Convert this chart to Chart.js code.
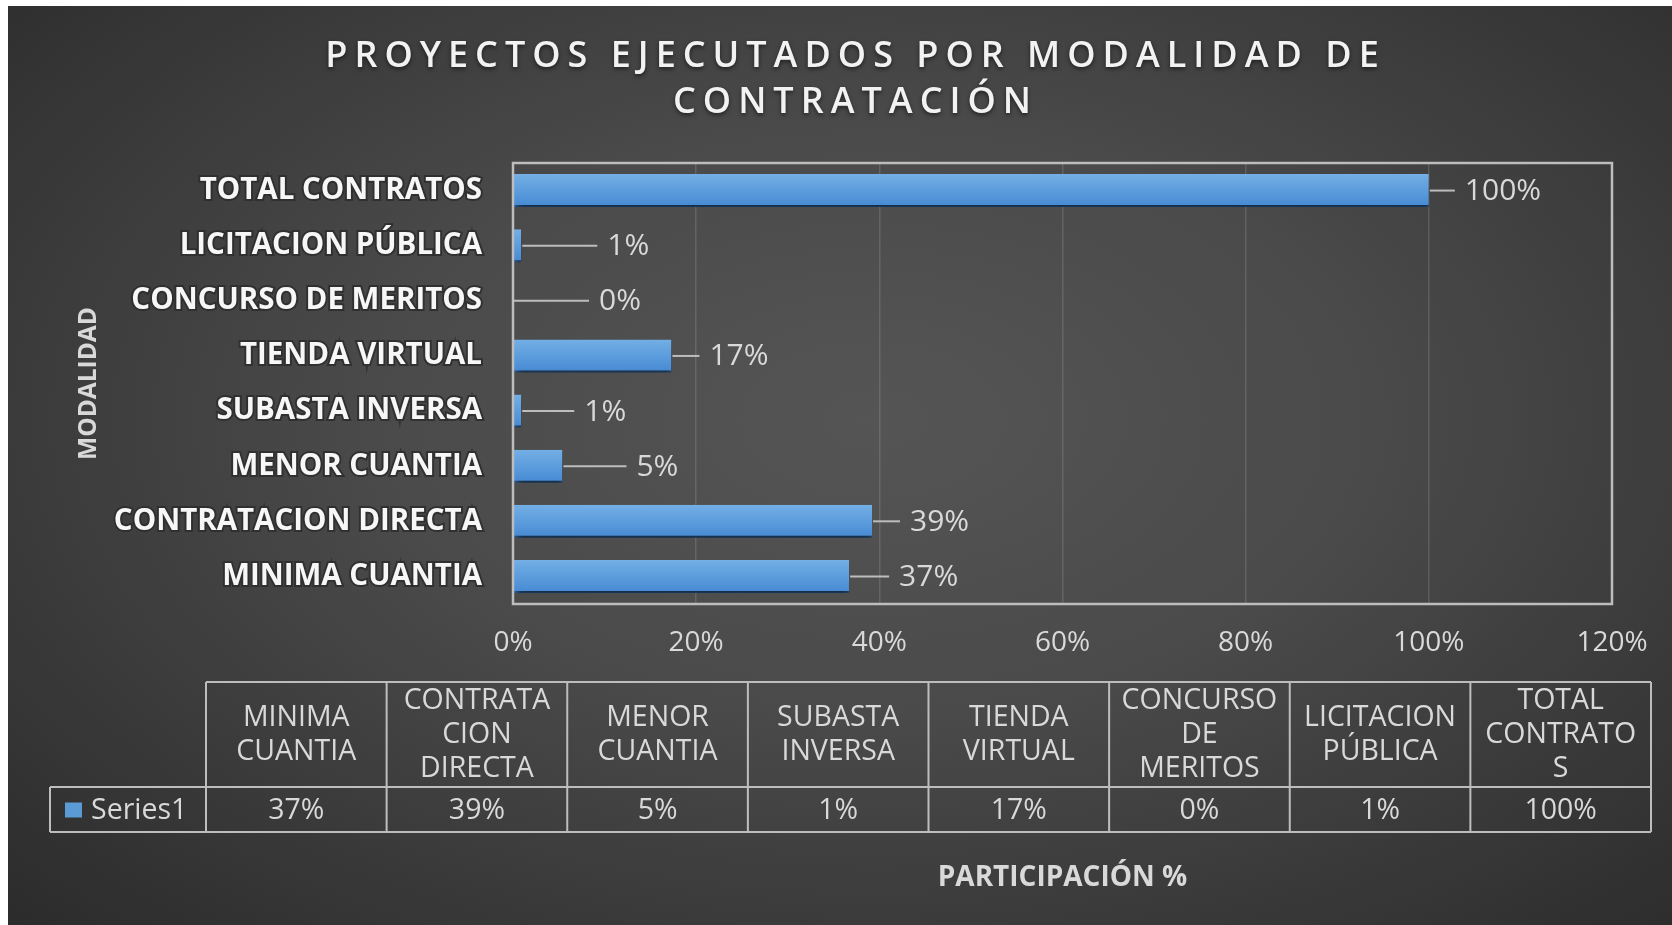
<!DOCTYPE html>
<html>
<head>
<meta charset="utf-8">
<title>Proyectos ejecutados por modalidad de contratación</title>
<script src="https://cdn.jsdelivr.net/npm/chart.js@4.4.1/dist/chart.umd.min.js"></script>
<style>
  html, body { margin: 0; padding: 0; background: #fff; }
  #wrap {
    position: absolute; left: 8px; top: 6px; width: 1664px; height: 919px;
    background: radial-gradient(ellipse 75% 80% at 52% 45%, #555555 0%, #4a4a4a 40%, #2a2a2a 100%);
  }
</style>
</head>
<body>
<div id="wrap"><canvas id="chart" width="1664" height="919"></canvas></div>
<script>
// ── DATA ──────────────────────────────────────────────────────────────────────
const titleLines = ['PROYECTOS EJECUTADOS POR MODALIDAD DE', 'CONTRATACIÓN'];
const categories = ['MINIMA CUANTIA', 'CONTRATACION DIRECTA', 'MENOR CUANTIA', 'SUBASTA INVERSA',
    'TIENDA VIRTUAL', 'CONCURSO DE MERITOS', 'LICITACION PÚBLICA', 'TOTAL CONTRATOS'];
const participacion = [36.7, 39.2, 5.4, 0.9, 17.3, 0, 0.9, 100];
const seriesName = 'Series1';
const xTicks = [0, 20, 40, 60, 80, 100, 120];
const yTitle = 'MODALIDAD';
const xTitle = 'PARTICIPACIÓN %';

const FONT = '"Open Sans", sans-serif';
const BLUE = '#5B9BD5';
const LABEL = '#d9d9d9';
const LINE = '#bdbdbd';
const BAR_PCT = 0.6;

const pct = v => Math.round(v) + '%';

// gradient per bar, built from the category scale
function barFill(ctx) {
    const chart = ctx.chart;
    const y = chart.scales.y;
    if (!y || ctx.type !== 'data' || !y.height) return BLUE;
    const c = y.getPixelForValue(ctx.dataIndex);
    const h = (y.height / categories.length) * BAR_PCT / 2;
    const g = chart.ctx.createLinearGradient(0, c - h, 0, c + h);
    g.addColorStop(0, '#74afe5');
    g.addColorStop(0.55, '#5a9bdc');
    g.addColorStop(1, '#4589d2');
    return g;
}

function wrap(c, text, maxW) {
    const lines = [];
    let line = '';
    for (const word of text.split(' ')) {
        const test = line ? line + ' ' + word : word;
        if (c.measureText(test).width <= maxW) { line = test; continue; }
        if (line) lines.push(line);
        line = '';
        for (const ch of word) {
            if (line && c.measureText(line + ch).width > maxW) { lines.push(line); line = ch; }
            else line += ch;
        }
    }
    if (line) lines.push(line);
    return lines;
}

// ── PLUGINS ───────────────────────────────────────────────────────────────────

const barShadow = {
    id: 'barShadow',
    beforeDatasetsDraw(chart) {
        const c = chart.ctx;
        c.save();
        c.shadowColor = 'rgba(0,0,0,0.65)';
        c.shadowBlur = 7;
        c.shadowOffsetX = 2;
        c.shadowOffsetY = 5;
    },
    afterDatasetsDraw(chart) { chart.ctx.restore(); }
};

const plotFrame = {
    id: 'plotFrame',
    afterDatasetsDraw(chart) {
        const { left, top, width, height } = chart.chartArea;
        const c = chart.ctx;
        c.save();
        c.strokeStyle = LINE;
        c.lineWidth = 2.5;
        c.strokeRect(left, top, width, height);
        c.restore();
    }
};

const leaderLabels = {
    id: 'leaderLabels',
    afterDatasetsDraw(chart, args, o) {
        const c = chart.ctx;
        const meta = chart.getDatasetMeta(0);
        c.save();
        c.font = `${o.size}px ${FONT}`;
        c.textBaseline = 'middle';
        c.textAlign = 'left';
        c.lineWidth = 2;
        meta.data.forEach((bar, i) => {
            const len = o.lengths[i];
            c.strokeStyle = LINE;
            c.beginPath();
            c.moveTo(bar.x + 1, bar.y);
            c.lineTo(bar.x + len, bar.y);
            c.stroke();
            c.fillStyle = LABEL;
            c.fillText(pct(participacion[i]), bar.x + len + o.gap, bar.y + 1);
        });
        c.restore();
    }
};

const spacedTitle = {
    id: 'spacedTitle',
    afterDraw(chart, args, o) {
        const c = chart.ctx;
        c.save();
        c.font = `${o.weight} ${o.size}px ${FONT}`;
        c.letterSpacing = o.spacing + 'px';
        c.fillStyle = '#f2f2f2';
        c.textAlign = 'center';
        c.textBaseline = 'middle';
        c.shadowColor = 'rgba(0,0,0,0.55)';
        c.shadowBlur = 4;
        c.shadowOffsetY = 2;
        titleLines.forEach((t, i) => c.fillText(t, o.x + o.spacing / 2, o.y + i * o.lineGap));
        c.restore();
    }
};

const dataTable = {
    id: 'dataTable',
    afterDraw(chart, args, o) {
        const c = chart.ctx;
        const colW = (o.right - o.left) / categories.length;
        c.save();
        c.strokeStyle = LINE;
        c.lineWidth = 2;
        c.beginPath();
        c.moveTo(o.left, o.top); c.lineTo(o.right, o.top);
        c.moveTo(o.legendLeft, o.mid); c.lineTo(o.right, o.mid);
        c.moveTo(o.legendLeft, o.bottom); c.lineTo(o.right, o.bottom);
        c.moveTo(o.legendLeft, o.mid); c.lineTo(o.legendLeft, o.bottom);
        for (let i = 0; i <= categories.length; i++) {
            const x = o.left + i * colW;
            c.moveTo(x, o.top); c.lineTo(x, o.bottom);
        }
        c.stroke();

        c.fillStyle = LABEL;
        c.font = `${o.size}px ${FONT}`;
        c.textAlign = 'center';
        c.textBaseline = 'middle';
        const headMid = (o.top + o.mid) / 2;
        const rowMid = (o.mid + o.bottom) / 2;
        categories.forEach((cat, i) => {
            const cx = o.left + (i + 0.5) * colW;
            const lines = wrap(c, cat, o.wrapWidth);
            lines.forEach((ln, j) => c.fillText(ln, cx, headMid + (j - (lines.length - 1) / 2) * o.lineGap));
            c.fillText(pct(participacion[i]), cx, rowMid + 1);
        });

        // legend key
        c.fillStyle = BLUE;
        c.fillRect(o.legendLeft + 15, rowMid - 7, 17, 15);
        c.fillStyle = LABEL;
        c.textAlign = 'left';
        c.fillText(seriesName, o.legendLeft + 41, rowMid + 1);
        c.restore();
    }
};

// ── CHART ─────────────────────────────────────────────────────────────────────

new Chart(document.getElementById('chart'), {
    type: 'bar',
    data: {
        labels: categories,
        datasets: [{
            label: seriesName,
            data: participacion,
            backgroundColor: barFill,
            borderColor: '#2f6cad',
            borderWidth: { top: 0, right: 0, bottom: 2, left: 0 },
            borderSkipped: false,
            barPercentage: BAR_PCT,
            categoryPercentage: 1
        }]
    },
    options: {
        indexAxis: 'y',
        responsive: false,
        animation: false,
        layout: { padding: { left: 60, right: 60, top: 157, bottom: 21 } },
        plugins: {
            legend: { display: false },
            tooltip: { enabled: false },
            spacedTitle: { x: 844, y: 51, lineGap: 46, size: 36, weight: 600, spacing: 7 },
            leaderLabels: { size: 30, gap: 10, lengths: [40, 28, 64, 53, 28, 76, 76, 26] },
            dataTable: { legendLeft: 42, left: 198, right: 1643, top: 676, mid: 781, bottom: 826, size: 28.5, lineGap: 34, wrapWidth: 159 }
        },
        scales: {
            x: {
                min: xTicks[0], max: xTicks[xTicks.length - 1],
                afterBuildTicks: s => { s.ticks = xTicks.map(v => ({ value: v })); },
                ticks: { color: LABEL, font: { family: FONT, size: 28 }, padding: 22, callback: v => v + '%', maxRotation: 0, autoSkip: false },
                grid: { color: 'rgba(255,255,255,0.13)', lineWidth: 1.5, drawTicks: false },
                border: { display: false },
                title: { display: true, text: xTitle, color: LABEL, font: { family: FONT, size: 28, weight: 'bold' }, padding: { top: 0, bottom: 9 } },
                afterFit: s => { s.height = 300; }
            },
            y: {
                reverse: true,
                grid: { display: false, drawTicks: false },
                border: { display: false },
                ticks: {
                    color: '#f7f7f7', font: { family: FONT, size: 29.5, weight: 'bold' }, padding: 31, autoSkip: false,
                    textStrokeColor: 'rgba(45,45,45,0.85)', textStrokeWidth: 4
                },
                title: { display: true, text: yTitle, color: LABEL, font: { family: FONT, size: 24.5, weight: 'bold' }, padding: { top: 6, bottom: 0 } },
                afterFit: s => { s.width = 445; }
            }
        }
    },
    plugins: [barShadow, plotFrame, leaderLabels, spacedTitle, dataTable]
});
</script>
</body>
</html>
